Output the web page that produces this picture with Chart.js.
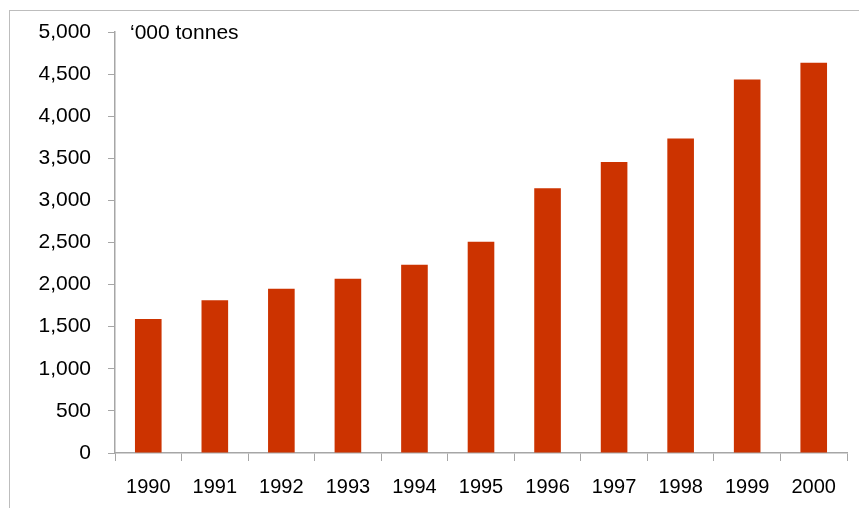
<!DOCTYPE html>
<html>
<head>
<meta charset="utf-8">
<script src="https://cdn.jsdelivr.net/npm/chart.js@4"></script>
<style>
  html, body { margin: 0; padding: 0; background: #fff; }
  #wrap { position: relative; width: 859px; height: 508px; }
  #frame { position: absolute; left: 9px; top: 10px; right: 0; bottom: 0;
           border-left: 1.5px solid #bdbdbd; border-top: 1.5px solid #bdbdbd; }
  canvas { position: absolute; left: 0; top: 0; }
</style>
</head>
<body>
<div id="wrap">
  <div id="frame"></div>
  <canvas id="chart" width="859" height="508"></canvas>
</div>
<script>
const years = ['1990', '1991', '1992', '1993', '1994', '1995', '1996', '1997', '1998', '1999', '2000'];
const tonnes = [1590, 1815, 1950, 2070, 2235, 2510, 3145, 3455, 3735, 4435, 4635];
const unitLabel = '\u2018000 tonnes';

const axisGrey = '#a6a6a6';

// unit note in the top-left corner of the plot
const unitNote = {
    id: 'unitNote',
    afterDraw(chart) {
        const ctx = chart.ctx;
        ctx.save();
        ctx.font = '21px "Liberation Sans", Arial, sans-serif';
        ctx.fillStyle = '#000';
        ctx.textBaseline = 'alphabetic';
        ctx.fillText(unitLabel, 130, 39);
        ctx.restore();
    }
};

const ctx = document.getElementById('chart').getContext('2d');

new Chart(ctx, {
    type: 'bar',
    data: {
        labels: years,
        datasets: [{
            data: tonnes,
            backgroundColor: '#cc3300',
            borderWidth: 0,
            barPercentage: 0.4,
            categoryPercentage: 1
        }]
    },
    plugins: [unitNote],
    options: {
        responsive: false,
        animation: false,
        layout: { padding: { top: 32, right: 12, left: 0, bottom: 0 } },
        plugins: {
            legend: { display: false },
            tooltip: { enabled: false }
        },
        scales: {
            x: {
                grid: {
                    offset: true,
                    drawOnChartArea: false,
                    drawTicks: true,
                    tickLength: 8,
                    color: axisGrey
                },
                border: { display: true, color: axisGrey, width: 1.5 },
                ticks: {
                    color: '#000',
                    padding: 14,
                    maxRotation: 0,
                    font: { family: '"Liberation Sans", Arial, sans-serif', size: 20 }
                },
                afterFit(scale) { scale.height = 55; }
            },
            y: {
                min: 0,
                max: 5000,
                grid: {
                    drawOnChartArea: false,
                    drawTicks: true,
                    tickLength: 7,
                    color: axisGrey
                },
                border: { display: true, color: axisGrey, width: 1.5 },
                ticks: {
                    stepSize: 500,
                    color: '#000',
                    padding: 17,
                    font: { family: '"Liberation Sans", Arial, sans-serif', size: 21 },
                    callback: v => v.toLocaleString('en-US')
                },
                afterFit(scale) { scale.width = 115; }
            }
        }
    }
});
</script>
</body>
</html>
